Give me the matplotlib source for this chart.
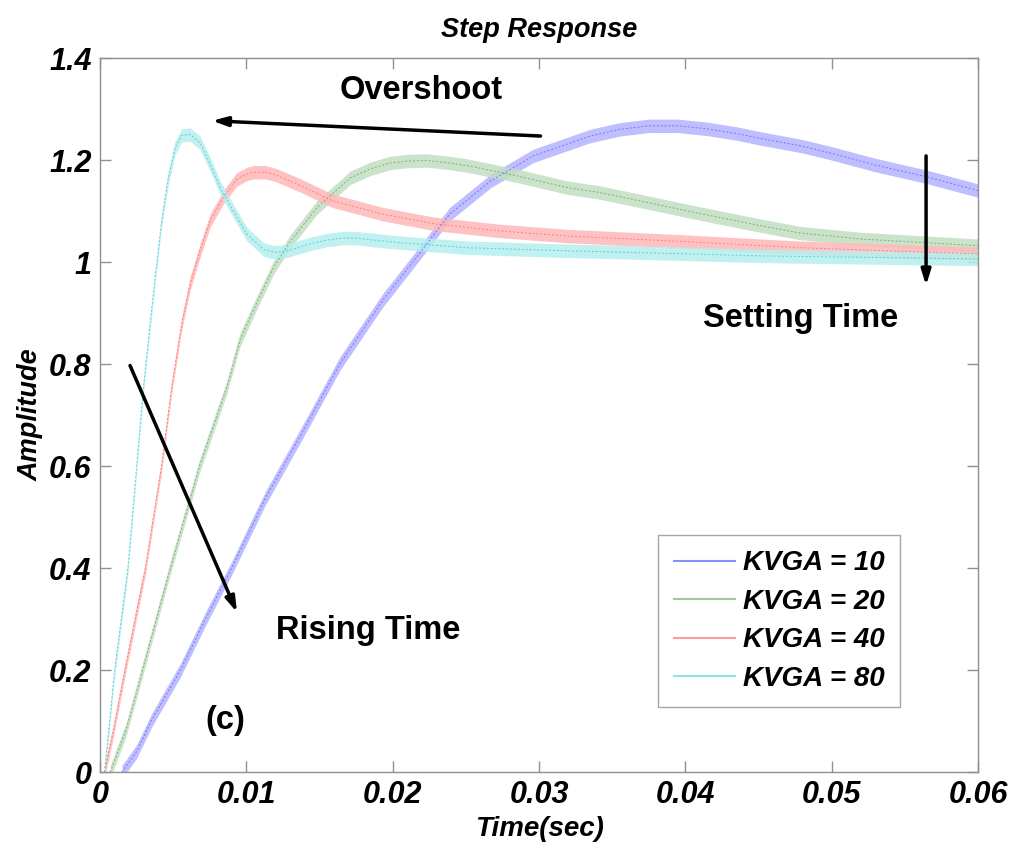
import matplotlib
matplotlib.use("Agg")
import matplotlib.pyplot as plt
import numpy as np

plt.rcParams['font.family'] = ['Liberation Sans', 'DejaVu Sans']

# ---- data (time in s, amplitude) ----
t_k10 = [0.0015, 0.0025, 0.0035, 0.0055, 0.0072, 0.0090, 0.0113, 0.0139, 0.0164, 0.0193,
         0.0217, 0.0239, 0.0267, 0.0296, 0.0319, 0.0335, 0.0355, 0.0375, 0.0395, 0.0415,
         0.0435, 0.0450, 0.0480, 0.0500, 0.0530, 0.0565, 0.0600]
y_k10 = [0.0, 0.040, 0.100, 0.200, 0.300, 0.400, 0.537, 0.670, 0.801, 0.924,
         1.012, 1.094, 1.159, 1.208, 1.231, 1.247, 1.260, 1.267, 1.267, 1.261,
         1.252, 1.243, 1.227, 1.213, 1.190, 1.167, 1.140]

t_k20 = [0.0007, 0.0018, 0.0029, 0.0048, 0.0068, 0.00866, 0.00957, 0.01071, 0.01185, 0.0130,
         0.0148, 0.0171, 0.0185, 0.0198, 0.0210, 0.0223, 0.0237, 0.0251, 0.0285, 0.0319,
         0.0342, 0.0410, 0.0450, 0.0478, 0.0520, 0.0600]
y_k20 = [0.0, 0.085, 0.20, 0.40, 0.60, 0.754, 0.848, 0.920, 0.989, 1.040,
         1.106, 1.165, 1.183, 1.194, 1.198, 1.199, 1.195, 1.189, 1.169, 1.146,
         1.136, 1.095, 1.072, 1.057, 1.045, 1.032]

t_k40 = [0.0003, 0.0009, 0.0017, 0.0031, 0.0042, 0.00489, 0.00558, 0.00615, 0.00683, 0.00752,
         0.00843, 0.00934, 0.0100, 0.01048, 0.0113, 0.01207, 0.0137, 0.0159, 0.0193, 0.0228,
         0.0273, 0.0319, 0.0400, 0.0478, 0.0600]
y_k40 = [0.0, 0.08, 0.20, 0.40, 0.60, 0.754, 0.879, 0.957, 1.022, 1.081,
         1.127, 1.162, 1.172, 1.176, 1.176, 1.170, 1.150, 1.120, 1.094, 1.075,
         1.061, 1.051, 1.040, 1.028, 1.016]

t_k80 = [0.0003, 0.0010, 0.0019, 0.0025, 0.00296, 0.00342, 0.00376, 0.00421, 0.00467, 0.00513,
         0.00558, 0.00615, 0.00683, 0.00752, 0.0082, 0.00911, 0.01002, 0.01116, 0.0116, 0.01207,
         0.0128, 0.0144, 0.0155, 0.0166, 0.0175, 0.0190, 0.0205, 0.0251, 0.0319, 0.0400,
         0.0451, 0.0600]
y_k80 = [0.0, 0.20, 0.40, 0.60, 0.754, 0.879, 0.970, 1.081, 1.166, 1.224,
         1.248, 1.250, 1.234, 1.192, 1.146, 1.100, 1.055, 1.025, 1.021, 1.019,
         1.022, 1.036, 1.043, 1.047, 1.047, 1.042, 1.038, 1.028, 1.022, 1.016,
         1.012, 1.006]

labels = ['KVGA = 10', 'KVGA = 20', 'KVGA = 40', 'KVGA = 80']
x_ticks = [0, 0.01, 0.02, 0.03, 0.04, 0.05, 0.06]
x_ticklabels = ['0', '0.01', '0.02', '0.03', '0.04', '0.05', '0.06']
y_ticks = [0, 0.2, 0.4, 0.6, 0.8, 1.0, 1.2, 1.4]
y_ticklabels = ['0', '0.2', '0.4', '0.6', '0.8', '1', '1.2', '1.4']

series = [(t_k10, y_k10), (t_k20, y_k20), (t_k40, y_k40), (t_k80, y_k80)]
band_colors = ['#b4b4ff', '#c2dfc2', '#ffb8b8', '#b6eeee']
line_colors = ['#6060ff', '#5fa65f', '#ff6b6b', '#40c8c8']
legend_colors = ['#8c8cff', '#9ccc9c', '#ff9c9c', '#90e4e4']

fig = plt.figure(figsize=(10.24, 8.58), dpi=100)
ax = fig.add_axes([0.0977, 0.1002, 0.8574, 0.8322])

half = 0.0132
for (t, y), bc, lc, lg, lab in zip(series, band_colors, line_colors, legend_colors, labels):
    t = np.asarray(t)
    y = np.asarray(y)
    ax.fill_between(t, y - half, y + half, color=bc, alpha=0.85, linewidth=0, zorder=2)
    ax.plot(t, y, color=lc, lw=0.7, ls=(0, (2, 2)), alpha=0.8, zorder=3)
    ax.plot([], [], color=lg, lw=1.5, label=lab)

ax.set_xlim(0, 0.06)
ax.set_ylim(0, 1.4)
ax.set_xticks(x_ticks)
ax.set_xticklabels(x_ticklabels)
ax.set_yticks(y_ticks)
ax.set_yticklabels(y_ticklabels)

for lbl in ax.get_xticklabels() + ax.get_yticklabels():
    lbl.set_fontsize(22)
    lbl.set_fontweight('bold')
    lbl.set_fontstyle('italic')

ax.tick_params(direction='in', length=8, width=1, color='#909090',
               top=True, right=True, pad=6)
for sp in ax.spines.values():
    sp.set_color('#909090')
    sp.set_linewidth(1)

ax.set_title('Step Response', fontsize=19.5, fontweight='bold', fontstyle='italic', pad=15)
ax.set_xlabel('Time(sec)', fontsize=20, fontweight='bold', fontstyle='italic', labelpad=4)
ax.set_ylabel('Amplitude', fontsize=19.5, fontweight='bold', fontstyle='italic', labelpad=4)

leg = ax.legend(loc='upper right', bbox_to_anchor=(0.911, 0.332), borderaxespad=0,
                prop=dict(size=20, weight='bold', style='italic'),
                frameon=True, fancybox=False, edgecolor='#909090',
                handlelength=2.2, labelspacing=0.45, borderpad=0.55, handletextpad=0.3)
leg.get_frame().set_linewidth(1)

ann_font = dict(fontsize=23.5, fontweight='bold', color='black')
ax.text(0.0164, 1.337, 'Overshoot', ha='left', va='center', **ann_font)
ax.text(0.0412, 0.889, 'Setting Time', ha='left', va='center', **ann_font)
ax.text(0.0120, 0.278, 'Rising Time', ha='left', va='center', **ann_font)
ax.text(0.0072, 0.102, '(c)', ha='left', va='center', **ann_font)

arrow_kw = dict(arrowstyle='-|>,head_length=0.9,head_width=0.28', color='black', lw=2.5,
                shrinkA=0, shrinkB=0)
ax.annotate('', xy=(0.00765, 1.277), xytext=(0.0301, 1.247), arrowprops=arrow_kw)
ax.annotate('', xy=(0.05645, 0.954), xytext=(0.05645, 1.208), arrowprops=arrow_kw)
ax.annotate('', xy=(0.00936, 0.313), xytext=(0.00205, 0.797), arrowprops=arrow_kw)

fig.savefig('out.png', dpi=100)
